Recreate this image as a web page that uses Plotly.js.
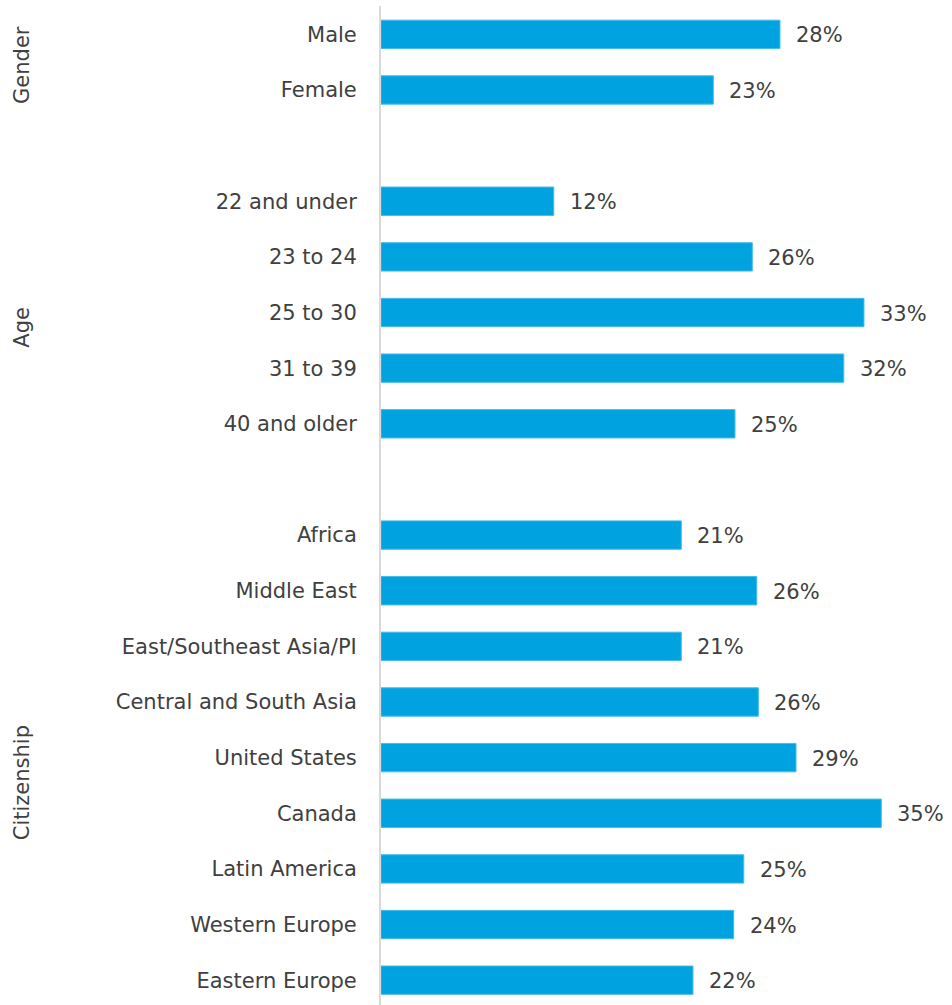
<!DOCTYPE html>
<html>
<head>
<meta charset="utf-8">
<script src="https://cdn.plot.ly/plotly-3.0.1.min.js"></script>
<style>html,body{margin:0;padding:0;background:#fff;}#chart{width:952px;height:1005px;}</style>
</head>
<body>
<div id="chart"></div>
<script>
// Categories in display order (spacer rows separate the groups)
const categories = ["Male","Female"," ","22 and under","23 to 24","25 to 30","31 to 39","40 and older","  ","Africa","Middle East","East/Southeast Asia/PI","Central and South Asia","United States","Canada","Latin America","Western Europe","Eastern Europe"];
const barCategories = ["Male","Female","22 and under","23 to 24","25 to 30","31 to 39","40 and older","Africa","Middle East","East/Southeast Asia/PI","Central and South Asia","United States","Canada","Latin America","Western Europe","Eastern Europe"];
const shares = [0.2765,0.2303,0.1197,0.2573,0.3347,0.3207,0.2453,0.2081,0.2604,0.2081,0.2615,0.2876,0.3467,0.2514,0.2444,0.2162];
const groupNames = ["Gender","Age","Citizenship"];

const FONT = "DejaVu Sans, Verdana, sans-serif";
const TXT = "#404040";

const trace = {
  type: "bar",
  orientation: "h",
  x: shares,
  y: barCategories,
  width: 0.51,
  marker: {color: "#00A3E0", line: {color: "#47BBEA", width: 1}},
  hoverinfo: "none"
};

const annotations = shares.map((v, i) => ({
  x: v, y: barCategories[i], xref: "x", yref: "y",
  text: Math.round(v * 100) + "%",
  showarrow: false, xanchor: "left", yanchor: "middle", xshift: 14, yshift: -1,
  font: {family: FONT, size: 21, color: TXT}
}));
const groupY = [0.941, 0.678, 0.222];
groupNames.forEach((g, i) => annotations.push({
  x: -0.6287, y: groupY[i], xref: "paper", yref: "paper",
  text: g, textangle: -90, showarrow: false, xanchor: "center", yanchor: "middle",
  font: {family: FONT, size: 21, color: TXT}
}));

const layout = {
  width: 952, height: 1005,
  margin: {l: 381, r: 0, t: 6, b: 0, pad: 0},
  paper_bgcolor: "#fff", plot_bgcolor: "#fff",
  showlegend: false,
  xaxis: {range: [0, 0.3957], visible: false, fixedrange: true},
  yaxis: {
    type: "category",
    categoryorder: "array", categoryarray: categories,
    tickvals: categories, ticktext: categories,
    range: [17.446, -0.509],
    showgrid: false, zeroline: false,
    showline: true, linecolor: "#d9d9d9", linewidth: 2,
    ticks: "outside", ticklen: 18, tickcolor: "rgba(0,0,0,0)",
    tickfont: {family: FONT, size: 21, color: TXT},
    fixedrange: true
  },
  annotations: annotations
};

Plotly.newPlot("chart", [trace], layout, {displayModeBar: false, staticPlot: true});
</script>
</body>
</html>
